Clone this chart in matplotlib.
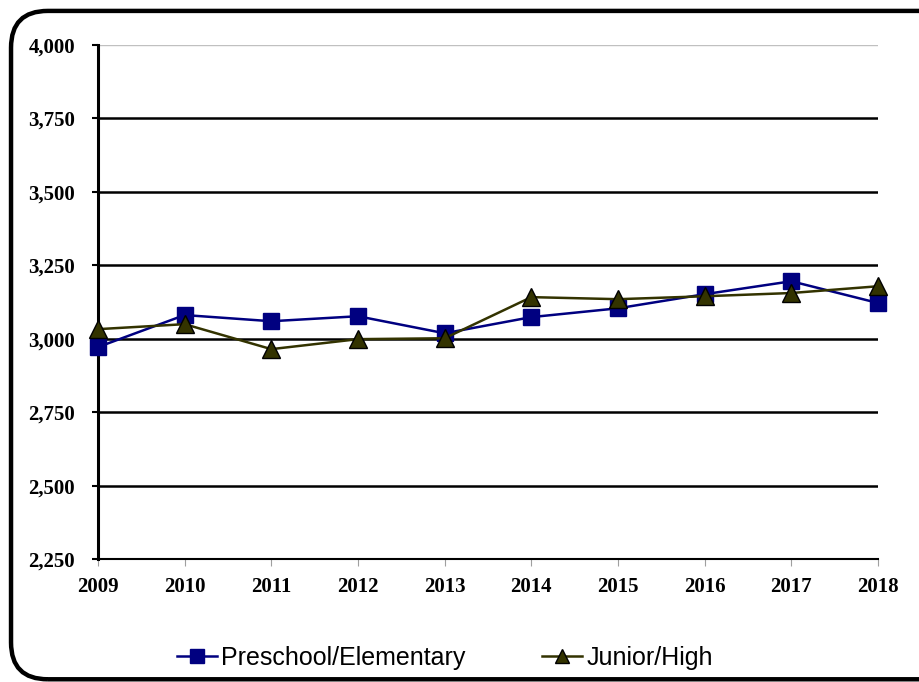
import matplotlib.pyplot as plt
from matplotlib.patches import FancyBboxPatch
from matplotlib.ticker import FuncFormatter

years = [2009, 2010, 2011, 2012, 2013, 2014, 2015, 2016, 2017, 2018]
preschool_elementary = [2972, 3081, 3060, 3077, 3019, 3074, 3104, 3152, 3196, 3122]
junior_high = [3033, 3050, 2965, 2999, 3002, 3142, 3135, 3145, 3156, 3179]
y_ticks = [2250, 2500, 2750, 3000, 3250, 3500, 3750, 4000]

fig = plt.figure(figsize=(9.19, 6.82), dpi=100)
ax = fig.add_axes([0.1066, 0.180, 0.8488, 0.754])

# rounded chart-area border, partly cut off on the right and bottom
border = FancyBboxPatch((0.012, 0.004), 1.05, 0.98, boxstyle="round,pad=0,rounding_size=0.04",
                        transform=fig.transFigure, fill=False, edgecolor="black",
                        linewidth=3.2, clip_on=False, mutation_aspect=919 / 682)
fig.patches.append(border)

for v in y_ticks[1:-1]:
    ax.axhline(v, color="black", linewidth=1.8, zorder=1)
ax.axhline(y_ticks[-1], color="#c0c0c0", linewidth=1, zorder=1)

ax.plot(years, preschool_elementary, color="#000080", linewidth=1.8, marker="s",
        markersize=12, markerfacecolor="#000080", markeredgecolor="#000080",
        label="Preschool/Elementary", zorder=3, clip_on=False)
ax.plot(years, junior_high, color="#333300", linewidth=1.8, marker="^",
        markersize=13, markerfacecolor="#333300", markeredgecolor="black",
        label="Junior/High", zorder=4, clip_on=False)

ax.set_xlim(years[0], years[-1])
ax.set_ylim(y_ticks[0], y_ticks[-1])
ax.set_xticks(years)
ax.set_yticks(y_ticks)
ax.yaxis.set_major_formatter(FuncFormatter(lambda v, p: f"{int(v):,}"))

for spine in ["top", "right"]:
    ax.spines[spine].set_visible(False)
ax.spines["left"].set_linewidth(2.2)
ax.spines["bottom"].set_linewidth(1.5)

ax.tick_params(axis="y", direction="out", length=4.5, width=1.5, pad=12, colors="black")
ax.tick_params(axis="x", direction="out", length=5, width=0.8, color="#a0a0a0", pad=8)
for lab in ax.get_xticklabels() + ax.get_yticklabels():
    lab.set_fontfamily("Liberation Serif")
    lab.set_fontweight("bold")
    lab.set_fontsize(15)

fig.legend(loc="center", bbox_to_anchor=(0.484, 0.035), ncol=2, frameon=False,
           prop={"family": "Liberation Sans", "size": 18}, handlelength=1.6,
           handletextpad=0.15, columnspacing=3.1, markerscale=0.8)

fig.savefig("out.png", dpi=100)
